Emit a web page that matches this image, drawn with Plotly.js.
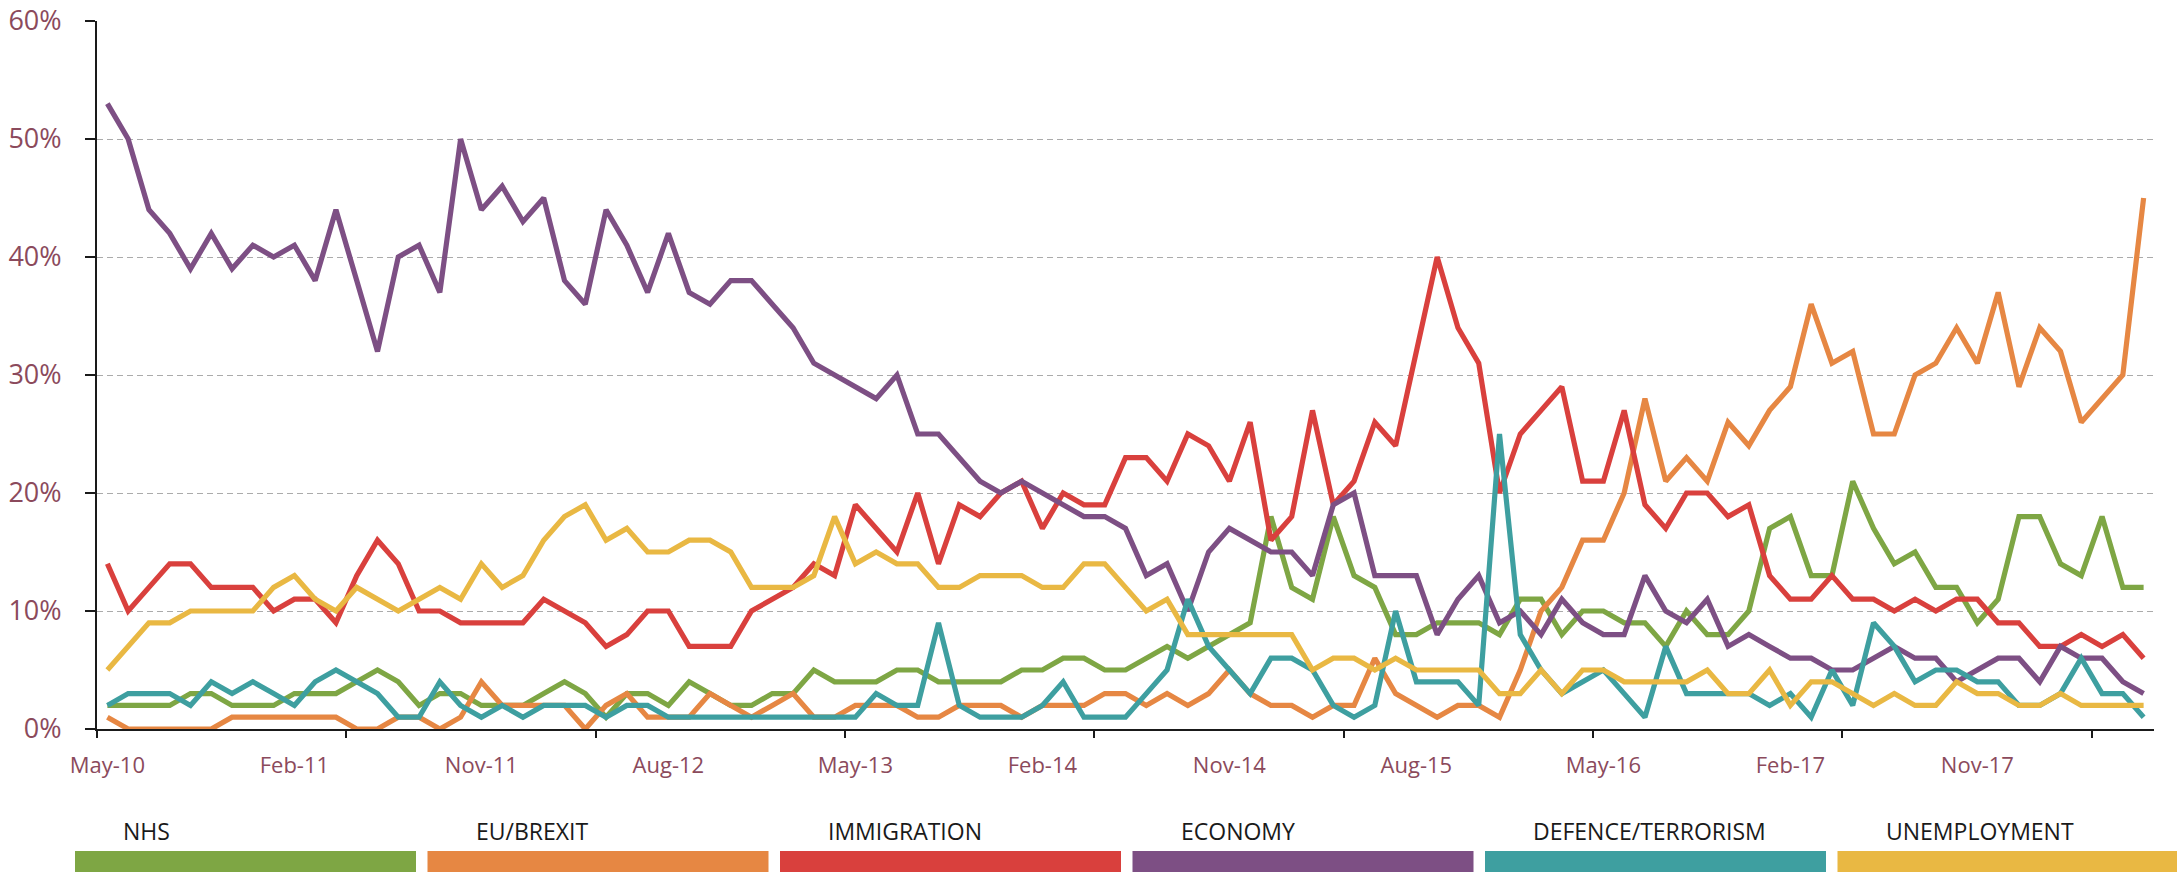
<!DOCTYPE html>
<html>
<head>
<meta charset="utf-8">
<script src="https://cdn.plot.ly/plotly-3.0.1.min.js"></script>
<style>
  html, body { margin: 0; padding: 0; background: #ffffff; }
  #chart { width: 2177px; height: 872px; }
</style>
</head>
<body>
<div id="chart"></div>
<script>
// ---- Categories (monthly, May-10 .. Jul-18) ----
const months = [
  'May-10','Jun-10','Jul-10','Aug-10','Sep-10','Oct-10','Nov-10','Dec-10',
  'Jan-11','Feb-11','Mar-11','Apr-11','May-11','Jun-11','Jul-11','Aug-11','Sep-11','Oct-11','Nov-11','Dec-11',
  'Jan-12','Feb-12','Mar-12','Apr-12','May-12','Jun-12','Jul-12','Aug-12','Sep-12','Oct-12','Nov-12','Dec-12',
  'Jan-13','Feb-13','Mar-13','Apr-13','May-13','Jun-13','Jul-13','Aug-13','Sep-13','Oct-13','Nov-13','Dec-13',
  'Jan-14','Feb-14','Mar-14','Apr-14','May-14','Jun-14','Jul-14','Aug-14','Sep-14','Oct-14','Nov-14','Dec-14',
  'Jan-15','Feb-15','Mar-15','Apr-15','May-15','Jun-15','Jul-15','Aug-15','Sep-15','Oct-15','Nov-15','Dec-15',
  'Jan-16','Feb-16','Mar-16','Apr-16','May-16','Jun-16','Jul-16','Aug-16','Sep-16','Oct-16','Nov-16','Dec-16',
  'Jan-17','Feb-17','Mar-17','Apr-17','May-17','Jun-17','Jul-17','Aug-17','Sep-17','Oct-17','Nov-17','Dec-17',
  'Jan-18','Feb-18','Mar-18','Apr-18','May-18','Jun-18','Jul-18'
];

// ---- Tick labels ----
const tickLabels = ['May-10','Feb-11','Nov-11','Aug-12','May-13','Feb-14','Nov-14','Aug-15','May-16','Feb-17','Nov-17'];
const yTickValues = [0, 10, 20, 30, 40, 50, 60];

// ---- Series values (% of respondents) ----
const nhs = [
  2,2,2,2,3,3,2,2,2,3,3,3,4,5,
  4,2,3,3,2,2,2,3,4,3,1,3,3,2,4,3,
  2,2,3,3,5,4,4,4,5,5,4,4,4,4,5,5,6,
  6,5,5,6,7,6,7,8,9,18,12,11,18,13,12,8,
  8,9,9,9,8,11,11,8,10,10,9,9,7,10,8,8,
  10,17,18,13,13,21,17,14,15,12,12,9,11,18,18,14,13,18,12,12
];
const euBrexit = [
  1,0,0,0,0,0,1,1,1,1,1,1,0,0,
  1,1,0,1,4,2,2,2,2,0,2,3,1,1,1,3,
  2,1,2,3,1,1,2,2,2,1,1,2,2,2,1,2,2,
  2,3,3,2,3,2,3,5,3,2,2,1,2,2,6,3,
  2,1,2,2,1,5,10,12,16,16,20,28,21,23,21,26,
  24,27,29,36,31,32,25,25,30,31,34,31,37,29,34,32,26,28,30,45
];
const immigration = [
  14,10,12,14,14,12,12,12,10,11,11,9,13,16,
  14,10,10,9,9,9,9,11,10,9,7,8,10,10,7,7,
  7,10,11,12,14,13,19,17,15,20,14,19,18,20,21,17,20,
  19,19,23,23,21,25,24,21,26,16,18,27,19,21,26,24,
  32,40,34,31,20,25,27,29,21,21,27,19,17,20,20,18,
  19,13,11,11,13,11,11,10,11,10,11,11,9,9,7,7,8,7,8,6
];
const economy = [
  53,50,44,42,39,42,39,41,40,41,38,44,38,32,
  40,41,37,50,44,46,43,45,38,36,44,41,37,42,37,36,
  38,38,36,34,31,30,29,28,30,25,25,23,21,20,21,20,19,
  18,18,17,13,14,10,15,17,16,15,15,13,19,20,13,13,
  13,8,11,13,9,10,8,11,9,8,8,13,10,9,11,7,
  8,7,6,6,5,5,6,7,6,6,4,5,6,6,4,7,6,6,4,3
];
const defenceTerrorism = [
  2,3,3,3,2,4,3,4,3,2,4,5,4,3,
  1,1,4,2,1,2,1,2,2,2,1,2,2,1,1,1,
  1,1,1,1,1,1,1,3,2,2,9,2,1,1,1,2,4,
  1,1,1,3,5,11,7,5,3,6,6,5,2,1,2,10,
  4,4,4,2,25,8,5,3,4,5,3,1,7,3,3,3,
  3,2,3,1,5,2,9,7,4,5,5,4,4,2,2,3,6,3,3,1
];
const unemployment = [
  5,7,9,9,10,10,10,10,12,13,11,10,12,11,
  10,11,12,11,14,12,13,16,18,19,16,17,15,15,16,16,
  15,12,12,12,13,18,14,15,14,14,12,12,13,13,13,12,12,
  14,14,12,10,11,8,8,8,8,8,8,5,6,6,5,6,
  5,5,5,5,3,3,5,3,5,5,4,4,4,4,5,3,
  3,5,2,4,4,3,2,3,2,2,4,3,3,2,2,3,2,2,2,2
];

const seriesNames = ['NHS', 'EU/BREXIT', 'IMMIGRATION', 'ECONOMY', 'DEFENCE/TERRORISM', 'UNEMPLOYMENT'];
const seriesValues = [nhs, euBrexit, immigration, economy, defenceTerrorism, unemployment];
const seriesColors = ['#7EA644', '#E68743', '#D9403D', '#7D4F84', '#3E9FA0', '#E9B843'];

// ---- Geometry (pixels) ----
const W = 2177, H = 872;
const M = { l: 97, r: 23, t: 21, b: 143 };
const plotW = W - M.l - M.r, plotH = H - M.t - M.b;
const px2x = (px) => (px - M.l) / plotW;
const px2y = (py) => (H - M.b - py) / plotH;

const traces = seriesNames.map((name, k) => ({
  type: 'scatter',
  mode: 'lines',
  name: name,
  x: months,
  y: seriesValues[k],
  line: { color: seriesColors[k], width: 5.2, shape: 'linear' },
  hoverinfo: 'skip',
  showlegend: false
}));
// empty trace to anchor the boundary-tick axis
traces.push({ type: 'scatter', mode: 'lines', x: [], y: [], xaxis: 'x2', yaxis: 'y', showlegend: false, hoverinfo: 'skip' });

// tick marks at every 12th category boundary
const boundaryTicks = [];
for (let b = -0.5; b < months.length - 1; b += 12) boundaryTicks.push(b);

// custom legend: coloured bars with labels above
const legendStart = 75, legendPeriod = 352.5, legendBarW = 341;
const barTop = 851, barBottom = 872;
const shapes = [], annotations = [];
seriesNames.forEach((name, k) => {
  const x0 = legendStart + k * legendPeriod;
  shapes.push({
    type: 'rect', xref: 'paper', yref: 'paper',
    x0: px2x(x0), x1: px2x(Math.min(x0 + legendBarW, W)),
    y0: px2y(barBottom), y1: px2y(barTop),
    fillcolor: seriesColors[k], line: { width: 0 }
  });
  annotations.push({
    xref: 'paper', yref: 'paper',
    x: px2x(x0 + 46), y: px2y(831),
    xanchor: 'left', yanchor: 'middle',
    text: name, showarrow: false,
    font: { family: 'Open Sans, sans-serif', size: 23, color: '#1a1a1a' }
  });
});

const tickFontColor = '#8B4A5C';

const layout = {
  width: W, height: H,
  margin: M,
  paper_bgcolor: '#ffffff',
  plot_bgcolor: '#ffffff',
  showlegend: false,
  hovermode: false,
  font: { family: 'Open Sans, sans-serif' },
  xaxis: {
    type: 'category',
    range: [-0.5, months.length - 0.5],
    tickmode: 'array',
    tickvals: tickLabels,
    ticktext: tickLabels,
    ticks: '',
    showgrid: false,
    zeroline: false,
    showline: true,
    linecolor: '#1a1a1a',
    linewidth: 2,
    tickfont: { family: 'Open Sans, sans-serif', size: 22, color: tickFontColor },
    ticklabelstandoff: 16,
    fixedrange: true
  },
  xaxis2: {
    type: 'linear',
    overlaying: 'x',
    anchor: 'y',
    side: 'bottom',
    range: [-0.5, months.length - 0.5],
    tickmode: 'array',
    tickvals: boundaryTicks,
    ticks: 'outside',
    ticklen: 8,
    tickwidth: 2,
    tickcolor: '#1a1a1a',
    showticklabels: false,
    showgrid: false,
    zeroline: false,
    showline: false,
    fixedrange: true
  },
  yaxis: {
    range: [0, 60],
    tickmode: 'array',
    tickvals: yTickValues,
    ticktext: yTickValues.map(v => v + '%'),
    ticks: 'outside',
    ticklen: 10,
    tickwidth: 2,
    tickcolor: '#1a1a1a',
    showgrid: true,
    gridcolor: '#ababab',
    gridwidth: 1,
    griddash: '6px,4px',
    zeroline: false,
    showline: true,
    linecolor: '#1a1a1a',
    linewidth: 2,
    tickfont: { family: 'Open Sans, sans-serif', size: 27, color: tickFontColor },
    ticklabelstandoff: 18,
    fixedrange: true
  },
  shapes: shapes,
  annotations: annotations
};

Plotly.newPlot('chart', traces, layout, { displayModeBar: false, staticPlot: true });
</script>
</body>
</html>
